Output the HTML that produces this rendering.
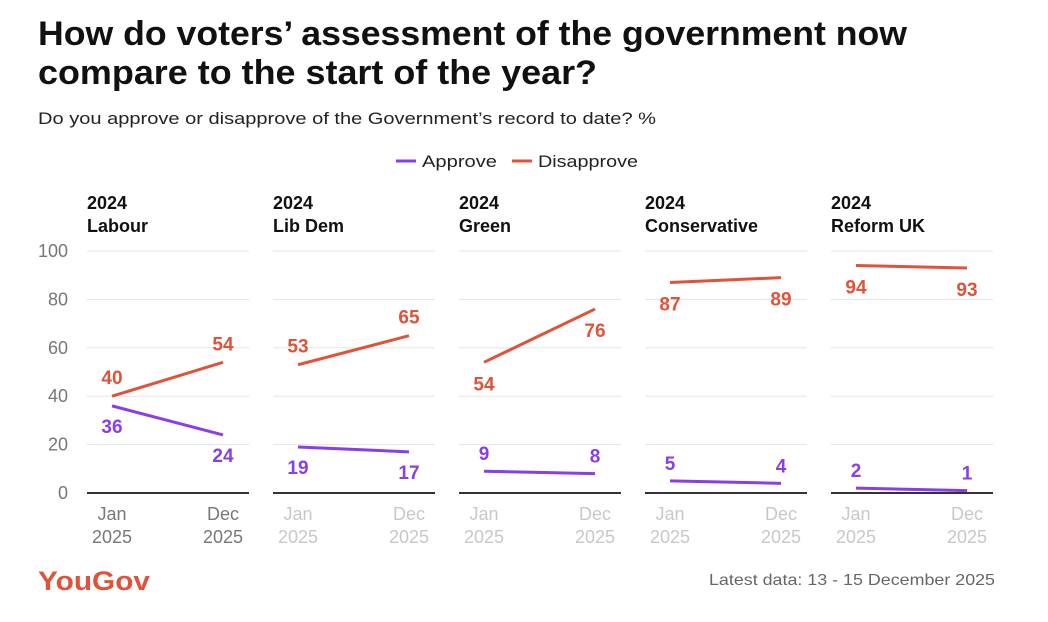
<!DOCTYPE html>
<html><head><meta charset="utf-8"><style>
body{margin:0;background:#fff;font-family:"Liberation Sans",sans-serif;}
svg{display:block}
</style></head><body>
<svg width="1048" height="622" xmlns="http://www.w3.org/2000/svg">
<text x="38" y="45" font-size="34" font-weight="bold" fill="#111" textLength="869" lengthAdjust="spacingAndGlyphs">How do voters’ assessment of the government now</text>
<text x="38" y="84" font-size="34" font-weight="bold" fill="#111" textLength="559" lengthAdjust="spacingAndGlyphs">compare to the start of the year?</text>
<text x="38" y="124" font-size="17" fill="#222" textLength="618" lengthAdjust="spacingAndGlyphs">Do you approve or disapprove of the Government’s record to date? %</text>
<g>
<line x1="396" y1="161" x2="416" y2="161" stroke="#8a3ee6" stroke-width="3"/>
<text x="422" y="167" font-size="17" fill="#222" textLength="75" lengthAdjust="spacingAndGlyphs">Approve</text>
<line x1="512" y1="161" x2="532" y2="161" stroke="#e0533a" stroke-width="3"/>
<text x="538" y="167" font-size="17" fill="#222" textLength="100" lengthAdjust="spacingAndGlyphs">Disapprove</text>
</g>
<g id="panels"></g>
<text x="38" y="590" font-size="27" font-weight="bold" fill="#e0533a" textLength="112" lengthAdjust="spacingAndGlyphs">YouGov</text>
<text x="995" y="585" font-size="16" fill="#666" text-anchor="end" textLength="286" lengthAdjust="spacingAndGlyphs">Latest data: 13 - 15 December 2025</text>
</svg>
<script>
const parties=["Labour","Lib Dem","Green","Conservative","Reform UK"];
const approveJan=[36,19,9,5,2];
const approveDec=[24,17,8,4,1];
const disapproveJan=[40,53,54,87,94];
const disapproveDec=[54,65,76,89,93];
const yTicks=[0,20,40,60,80,100];
const NS="http://www.w3.org/2000/svg";
const g=document.getElementById('panels');
const y=v=>493-v*2.42;
function mk(tag,attrs,parent,text){const e=document.createElementNS(NS,tag);for(const k in attrs)e.setAttribute(k,attrs[k]);if(text!==undefined)e.textContent=text;(parent||g).appendChild(e);return e;}
yTicks.forEach(t=>{
 const e=mk('text',{x:68,y:y(t)+6,'font-size':18,fill:'#777','text-anchor':'end'},g,t);
 
 
});
parties.forEach((p,i)=>{
 const x0=87+i*186,x1=x0+162,xa=x0+25,xb=x0+136;
 const pg=mk('g',{});
 
 
 mk('text',{x:x0,y:209,'font-size':18,'font-weight':'bold',fill:'#111'},pg,'2024');
 const t=mk('text',{x:x0,y:232,'font-size':18,'font-weight':'bold',fill:'#111'},pg,p);
 
 
 yTicks.forEach(v=>{ if(v>0) mk('line',{x1:x0,x2:x1,y1:y(v),y2:y(v),stroke:'#e6e6e6','stroke-width':1},pg); });
 mk('line',{x1:x0,x2:x1,y1:y(0),y2:y(0),stroke:'#333','stroke-width':2},pg);
 const tc=i===0?'#777':'#c8c8c8';
 [[xa,'Jan'],[xb,'Dec']].forEach(([xx,m])=>{
  mk('text',{x:xx,y:520,'font-size':18,fill:tc,'text-anchor':'middle'},pg,m);
  mk('text',{x:xx,y:543,'font-size':18,fill:tc,'text-anchor':'middle'},pg,'2025');
 });
 const la=mk('line',{x1:xa,y1:y(approveJan[i]),x2:xb,y2:y(approveDec[i]),stroke:'#8a3ee6','stroke-width':3},pg);
 
 
 const ld=mk('line',{x1:xa,y1:y(disapproveJan[i]),x2:xb,y2:y(disapproveDec[i]),stroke:'#e0533a','stroke-width':3},pg);
 
 
 const lbl=(xx,v,dy,c)=>{const e=mk('text',{x:xx,y:y(v)+dy,'font-size':19,'font-weight':'bold',fill:c,'text-anchor':'middle'},pg,v);
  
  };
 const aOff=v=>v<12?-11:27;
 lbl(xa,approveJan[i],aOff(approveJan[i]),'#8a3ee6');lbl(xb,approveDec[i],aOff(approveDec[i]),'#8a3ee6');
 const djBelow=disapproveJan[i]>70||disapproveDec[i]-disapproveJan[i]>15;
 lbl(xa,disapproveJan[i],djBelow?28:-12,'#e0533a');
 lbl(xb,disapproveDec[i],disapproveDec[i]>70?28:-12,'#e0533a');
});
</script>
</body></html>
